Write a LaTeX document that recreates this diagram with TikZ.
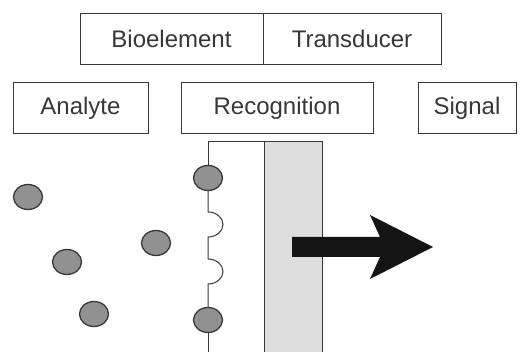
\documentclass[tikz,border=0pt]{standalone}
\usepackage{fontspec}
\setmainfont{Liberation Sans}
\usetikzlibrary{shapes.geometric}
\definecolor{ink}{RGB}{55,55,55}
\definecolor{slab}{RGB}{222,222,222}
\definecolor{bead}{RGB}{145,145,145}
\definecolor{pointer}{RGB}{20,20,20}
\tikzset{
  tagbox/.style={draw=ink,line width=1pt,minimum height=51pt,minimum width=#1,
    inner sep=0pt,text=ink,font=\fontsize{24}{28}\selectfont},
  tagbox/.default=100pt,
  bead/.style={ellipse,draw=ink,line width=1.3pt,fill=bead,
    minimum width=29pt,minimum height=25pt,inner sep=0pt},
  wire/.style={draw=ink,line width=1pt},
}

\begin{document}
\begin{tikzpicture}[x=1pt,y=-1pt]
  \useasboundingbox (0,0) rectangle (525,352);
  % labels
  \node[tagbox=183pt] (bio) at (171.5,39) {Bioelement};
  \node[tagbox=178pt] (trans) at (352,39) {Transducer};
  \node[tagbox=135pt] (ana) at (80.5,108.5) {Analyte};
  \node[tagbox=192pt] (rec) at (277,108.5) {Recognition};
  \node[tagbox=98pt] (sig) at (467,108.5) {Signal};
  % transducer slab
  \node[fill=slab,minimum width=58pt,minimum height=214pt,inner sep=0pt,anchor=north west] (slab) at (264,142) {};
  \draw[wire] (slab.south west) -- (slab.north west) -- (slab.north east) -- (slab.south east);
  % free analyte
  \node[bead] (a1) at (28,197) {};
  \node[bead] (a2) at (67,262) {};
  \node[bead] (a3) at (156,243) {};
  \node[bead] (a4) at (94,314) {};
  % bound analyte and receptors
  \node[bead] (m1) at (208,178) {};
  \node[bead] (m2) at (208,320) {};
  \draw[wire] (slab.north west) -- (208,142) -- (m1.north);
  \draw[wire] (m1.south) -- (208,212) arc[start angle=90,end angle=-90,x radius=15pt,y radius=12.5pt]
    -- (208,259) arc[start angle=90,end angle=-90,x radius=15pt,y radius=12.5pt] -- (m2.north);
  \draw[wire] (m2.south) -- (208,356);
  % signal arrow
  \fill[pointer] (292,237) -- (380,237) -- (370,215) -- (433,247) -- (370,279) -- (380,257) -- (292,257) -- cycle;
\end{tikzpicture}
\end{document}
